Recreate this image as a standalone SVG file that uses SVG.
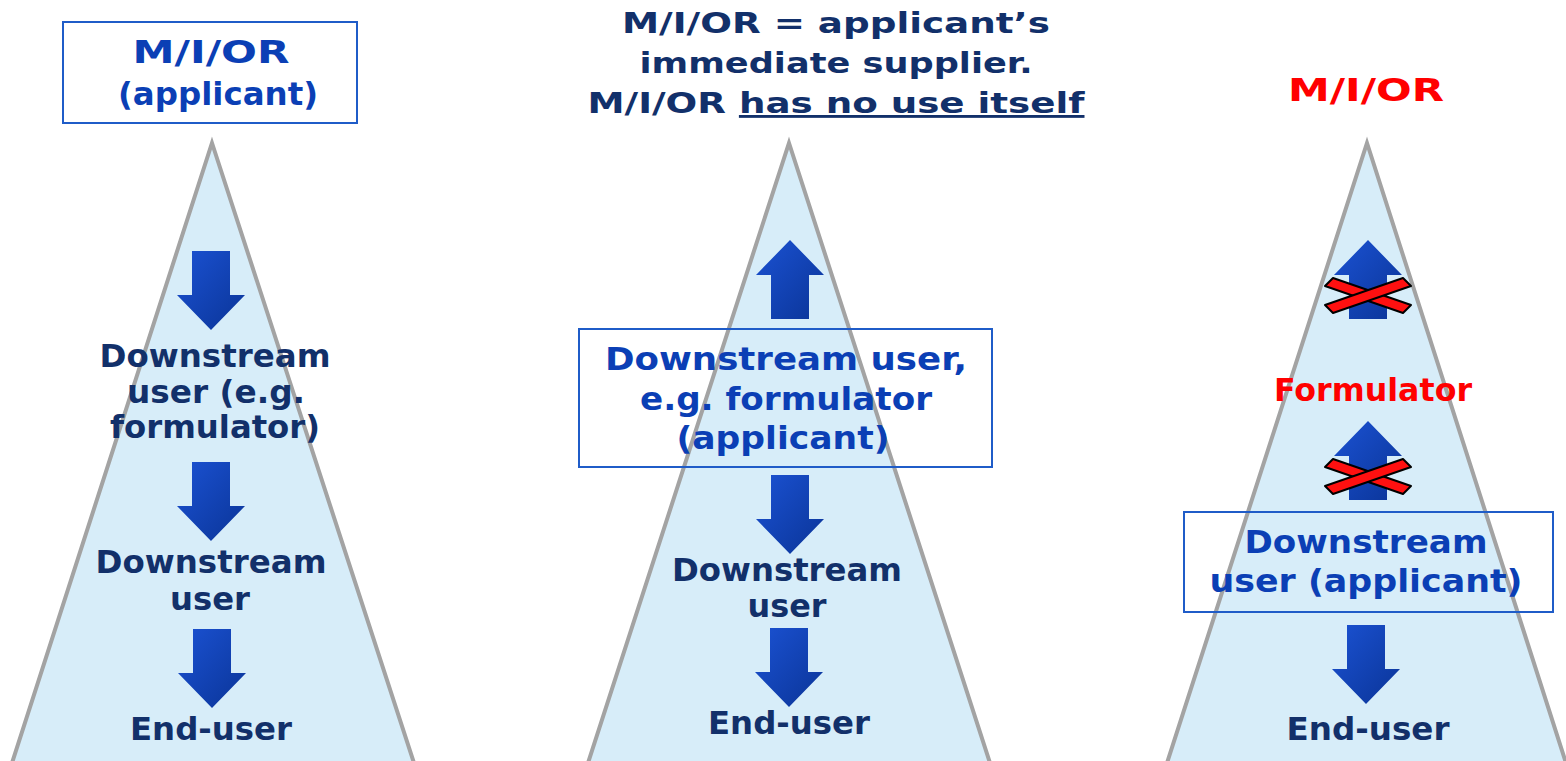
<svg xmlns="http://www.w3.org/2000/svg" width="1566" height="761" viewBox="0 0 1566 761">
<defs>
<style>
.tri{fill:#d7edf9;stroke:#a3a3a3;stroke-width:4}
.t{font-family:"DejaVu Sans",Verdana,sans-serif;font-weight:bold;font-size:31.5px;text-anchor:middle;fill:#12306a}
.h{font-size:28.5px}
.b{fill:#0b3fb5}
.r{fill:#ff0000}
.box{fill:none;stroke:#1f5cc8;stroke-width:2}
.arr{fill:url(#ag)}
.x{fill:#ff1010;stroke:#000;stroke-width:2;stroke-linejoin:round}
</style>
<linearGradient id="ag" x1="0" y1="0" x2="1" y2="1">
<stop offset="0" stop-color="#1b52d3"/>
<stop offset="1" stop-color="#0a3497"/>
</linearGradient>
<path id="down" d="M-19,0 H19 V44 H34 L0,79 L-34,44 H-19 Z"/>
<path id="up" d="M-19,79 H19 V35 H34 L0,0 L-34,35 H-19 Z"/>
<g id="cross"><polygon class="x" points="-43,-9 -35,-17 43,10 35,18"/><polygon class="x" points="-43,10 35,-17 43,-9 -35,18"/></g>
</defs>

<g id="left">
<polygon class="tri" points="212,143 414,763 12,763"/>
<rect class="box" x="63" y="22" width="294" height="101"/>
<text class="t b" x="211" y="63" textLength="157" lengthAdjust="spacingAndGlyphs">M/I/OR</text>
<text class="t b" x="218" y="105" textLength="200" lengthAdjust="spacingAndGlyphs">(applicant)</text>
<use class="arr" href="#down" x="211" y="251"/>
<text class="t" x="215" y="367" textLength="231" lengthAdjust="spacingAndGlyphs">Downstream</text>
<text class="t" x="216" y="403" textLength="178" lengthAdjust="spacingAndGlyphs">user (e.g.</text>
<text class="t" x="215" y="438" textLength="210" lengthAdjust="spacingAndGlyphs">formulator)</text>
<use class="arr" href="#down" x="211" y="462"/>
<text class="t" x="211" y="573" textLength="231" lengthAdjust="spacingAndGlyphs">Downstream</text>
<text class="t" x="210" y="610" textLength="80" lengthAdjust="spacingAndGlyphs">user</text>
<use class="arr" href="#down" x="212" y="629"/>
<text class="t" x="211" y="740" textLength="162" lengthAdjust="spacingAndGlyphs">End-user</text>
</g>

<g id="middle">
<text class="t h" x="836" y="33" textLength="428" lengthAdjust="spacingAndGlyphs">M/I/OR = applicant’s</text>
<text class="t h" x="836" y="73" textLength="393" lengthAdjust="spacingAndGlyphs">immediate supplier.</text>
<text class="t h" x="836" y="113" textLength="497" lengthAdjust="spacingAndGlyphs">M/I/OR <tspan text-decoration="underline">has no use itself</tspan></text>
<polygon class="tri" points="789,143 990,763 588,763"/>
<use class="arr" href="#up" x="790" y="240"/>
<rect class="box" x="579" y="329" width="413" height="138"/>
<text class="t b" x="786" y="370" textLength="362" lengthAdjust="spacingAndGlyphs">Downstream  user,</text>
<text class="t b" x="786" y="410" textLength="292" lengthAdjust="spacingAndGlyphs">e.g. formulator</text>
<text class="t b" x="783" y="449" textLength="213" lengthAdjust="spacingAndGlyphs">(applicant)</text>
<use class="arr" href="#down" x="790" y="475"/>
<text class="t" x="787" y="581" textLength="230" lengthAdjust="spacingAndGlyphs">Downstream</text>
<text class="t" x="787" y="617" textLength="79" lengthAdjust="spacingAndGlyphs">user</text>
<use class="arr" href="#down" x="789" y="628"/>
<text class="t" x="789" y="734" textLength="162" lengthAdjust="spacingAndGlyphs">End-user</text>
</g>

<g id="right">
<text class="t r" x="1366" y="101" textLength="156" lengthAdjust="spacingAndGlyphs">M/I/OR</text>
<polygon class="tri" points="1367,143 1566,763 1167,763"/>
<use class="arr" href="#up" x="1368" y="240"/>
<use href="#cross" x="1368" y="295"/>
<text class="t r" x="1373" y="401" textLength="198" lengthAdjust="spacingAndGlyphs">Formulator</text>
<use class="arr" href="#up" x="1368" y="421"/>
<use href="#cross" x="1368" y="476"/>
<rect class="box" x="1184" y="512" width="369" height="100"/>
<text class="t b" x="1366" y="553" textLength="243" lengthAdjust="spacingAndGlyphs">Downstream</text>
<text class="t b" x="1366" y="592" textLength="313" lengthAdjust="spacingAndGlyphs">user (applicant)</text>
<use class="arr" href="#down" x="1366" y="625"/>
<text class="t" x="1368" y="740" textLength="163" lengthAdjust="spacingAndGlyphs">End-user</text>
</g>
</svg>
